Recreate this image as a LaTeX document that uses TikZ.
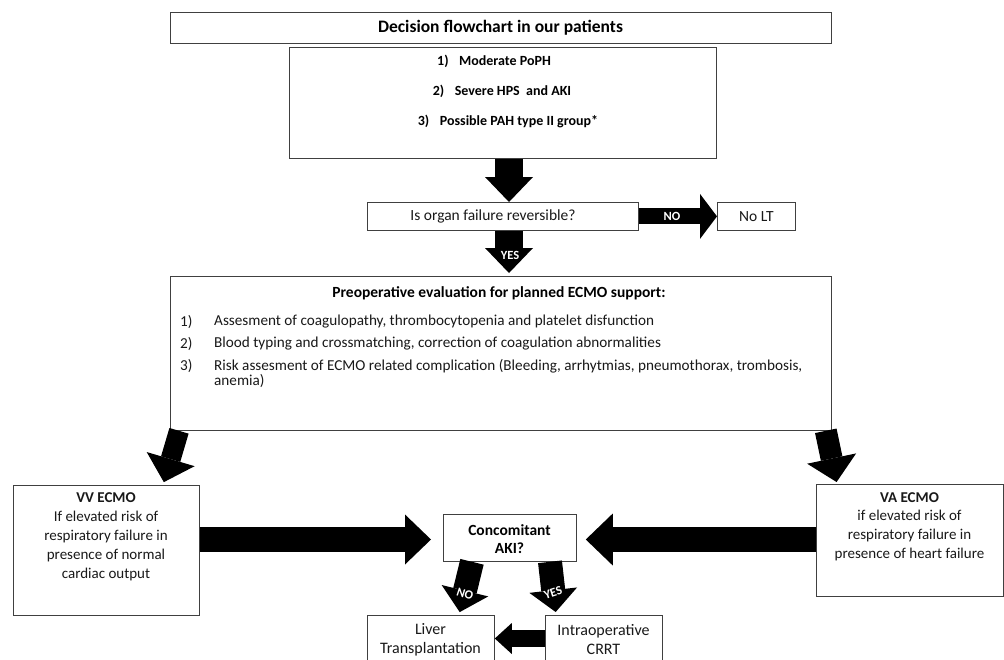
\documentclass[tikz,border=0pt]{standalone}
\usepackage{fontspec}
\setmainfont{Carlito}
\usetikzlibrary{arrows.meta,calc}
\begin{document}
\begin{tikzpicture}[x=1pt,y=-1pt,
  box/.style={draw=black!75, line width=0.8pt, fill=white, rectangle, inner sep=0pt, anchor=north west},
  txt/.style={font=\fontsize{15}{19}\selectfont, align=center, inner sep=0pt, text=black!90},
  btxt/.style={font=\fontsize{15}{19}\selectfont\bfseries, align=center, inner sep=0pt, text=black},
  itxt/.style={font=\fontsize{15.2}{15}\selectfont, anchor=west, inner sep=0pt, text=black!90},
  bigarr/.style args={#1/#2/#3}{draw=black, line width=#1, -{Triangle[line width=0pt, width=#2, length=#3]}},
  lab/.style={text=white, font=\fontsize{12.5}{12.5}\selectfont\bfseries, inner sep=0pt}
]
\useasboundingbox (0,0) rectangle (1004,659);
\clip (0,0) rectangle (1004,659);

% boxes
\node[box, minimum width=661pt, minimum height=31pt] (title) at (170,12) {};
\node[box, minimum width=427pt, minimum height=111pt] (crit) at (289,47) {};
\node[box, minimum width=271pt, minimum height=28pt] (rev) at (367,202) {};
\node[box, minimum width=78pt, minimum height=28pt] (nolt) at (717,202) {};
\node[box, minimum width=661pt, minimum height=154pt] (preop) at (170,276) {};
\node[box, minimum width=186pt, minimum height=130pt] (vv) at (13,485) {};
\node[box, minimum width=187pt, minimum height=112pt] (va) at (816,484) {};
\node[box, minimum width=133pt, minimum height=47pt] (aki) at (443,514) {};
\node[box, minimum width=127pt, minimum height=70pt] (liver) at (367,615) {};
\node[box, minimum width=117pt, minimum height=70pt] (crrt) at (545,615) {};

% texts
\node[btxt, font=\fontsize{17.5}{19}\selectfont\bfseries] (titletxt) at (500.5,28) {Decision flowchart in our patients};
\node[btxt, font=\fontsize{14}{16}\selectfont\bfseries] (c1) at (494,61) {1)\hspace{0.75em}Moderate PoPH};
\node[btxt, font=\fontsize{14}{16}\selectfont\bfseries] (c2) at (502,91) {2)\hspace{0.75em}Severe HPS\ \ and AKI};
\node[btxt, font=\fontsize{14}{16}\selectfont\bfseries] (c3) at (508,121) {3)\hspace{0.75em}Possible PAH type II group*};
\node[txt, font=\fontsize{15.5}{19}\selectfont] (revtxt) at (493,216) {Is organ failure reversible?};
\node[txt, font=\fontsize{15.5}{19}\selectfont] (nolttxt) at (nolt.center) {No LT};
\node[btxt, font=\fontsize{15.5}{16}\selectfont\bfseries] (ptitle) at (499,293) {Preoperative evaluation for planned ECMO support:};
\node[itxt] (n1) at (180,322) {1)};
\node[itxt] (i1) at (214,322) {Assesment of coagulopathy, thrombocytopenia and platelet disfunction};
\node[itxt] (n2) at (180,344) {2)};
\node[itxt] (i2) at (214,344) {Blood typing and crossmatching, correction of coagulation abnormalities};
\node[itxt] (n3) at (180,366) {3)};
\node[itxt] (i3) at (214,366) {Risk assesment of ECMO related complication (Bleeding, arrhytmias, pneumothorax, trombosis,};
\node[itxt] (i3b) at (214,381) {anemia)};
\node[txt] (vvtxt) at (106,536.5) {\textbf{VV ECMO}\\If elevated risk of\\respiratory failure in\\presence of normal\\cardiac output};
\node[txt, font=\fontsize{15}{18.7}\selectfont] (vatxt) at (909.5,526.5) {\textbf{VA ECMO}\\if elevated risk of\\respiratory failure in\\presence of heart failure};
\node[btxt, font=\fontsize{15.5}{18}\selectfont\bfseries] (akitxt) at (509.5,539) {Concomitant\\AKI?};
\node[txt, font=\fontsize{16}{19}\selectfont] (livertxt) at (430.5,639.5) {Liver\\Transplantation};
\node[txt, font=\fontsize{16}{19}\selectfont] (crrttxt) at (603.5,639.5) {Intraoperative\\CRRT};

% arrows
\coordinate (ax) at (509,0);
\coordinate (hy) at (0,539.5);
\coordinate (ly) at (0,638.5);
\draw[bigarr={28pt/48pt/25pt}] (crit.south -| ax) -- (rev.north -| ax);
\draw[bigarr={16pt/45pt/17pt}] (rev.east) -- (nolt.west);
\node[lab] (nolab) at (672,216.5) {NO};
\draw[bigarr={28pt/48pt/25pt}, shorten >=3pt] (rev.south -| ax) -- (preop.north -| ax);
\node[lab] (yeslab) at (510,255) {YES};
\draw[bigarr={20pt/50pt/24pt}, shorten >=3pt] ([xshift=9pt]preop.south west) -- ([xshift=150pt]vv.north west);
\draw[bigarr={22pt/50pt/24pt}, shorten >=2pt] ([xshift=-6pt]preop.south east) -- ([xshift=21pt]va.north west);
\draw[bigarr={25pt/50pt/26pt}, shorten >=12pt] (vv.east |- hy) -- (aki.west |- hy);
\draw[bigarr={25pt/52pt/27pt}, shorten >=9pt] (va.west |- hy) -- (aki.east |- hy);
\draw[bigarr={24pt/48pt/22pt}, shorten >=3pt] ([xshift=29pt]aki.south west) -- ([xshift=92pt]liver.north west);
\node[lab, rotate=-18] (nolab2) at (465,594) {NO};
\draw[bigarr={24pt/48pt/22pt}, shorten >=3pt] ([xshift=107pt]aki.south west) -- ([xshift=11pt]crrt.north west);
\node[lab, rotate=18] (yeslab2) at (553,593) {YES};
\draw[bigarr={17pt/31pt/17pt}] (crrt.west |- ly) -- (liver.east |- ly);
\end{tikzpicture}
\end{document}
